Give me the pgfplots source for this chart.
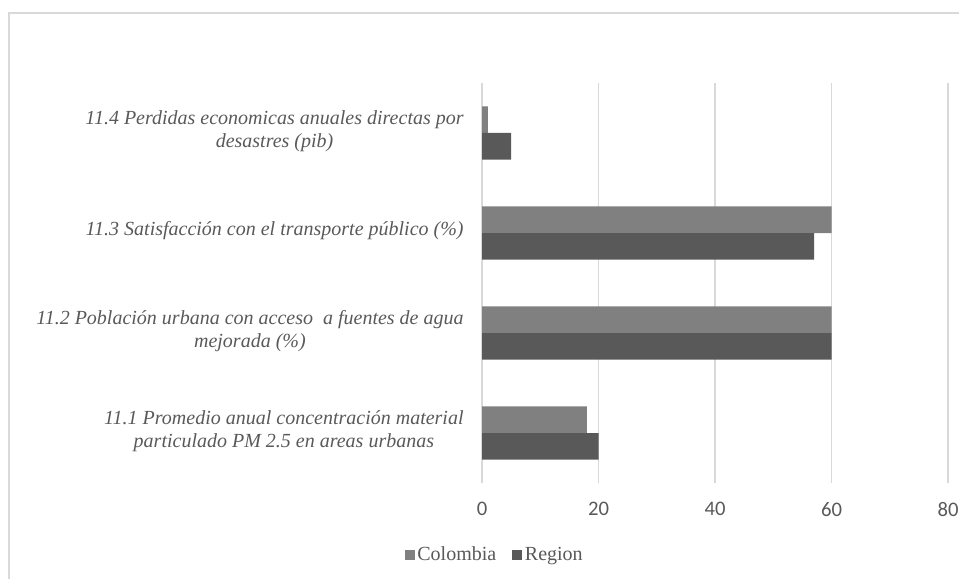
\documentclass[border=0pt]{standalone}
\usepackage{pgfplots}
\pgfplotsset{compat=1.18}
\usepackage{fontspec}
\setmainfont{Liberation Serif}
\newfontfamily\calibri{Carlito}
\definecolor{colA}{HTML}{808080}
\definecolor{colB}{HTML}{595959}
\definecolor{gridc}{HTML}{D9D9D9}
\definecolor{txt}{HTML}{595959}
\begin{document}
\begin{tikzpicture}
\path[use as bounding box] (0,0) rectangle (719.25pt,434.25pt);
\draw[gridc, line width=1.1pt] (6.75pt,0) -- (6.75pt,424.5pt) -- (719.25pt,424.5pt);
\begin{axis}[
  at={(361.5pt,72pt)}, anchor=south west,
  scale only axis, width=349.5pt, height=300pt,
  xbar, bar width=19.9pt,
  xmin=0, xmax=80, xtick={0,20,40,60,80},
  ymin=-0.5, ymax=3.5, ytick={0,1,2,3},
  yticklabels={{11.1 Promedio anual concentración material\\particulado PM 2.5 en areas urbanas},
               {11.2 Población urbana con acceso\ \ a fuentes de agua\\mejorada (\%)},
               {11.3 Satisfacción con el transporte público (\%)},
               {11.4 Perdidas economicas anuales directas por\\desastres (pib)}},
  yticklabel style={align=center, font=\fontsize{15pt}{16.8pt}\selectfont\itshape, text=txt, xshift=-6pt, yshift=1.5pt},
  xticklabel style={font=\fontsize{15.5pt}{17pt}\selectfont\calibri, text=txt, yshift=-11pt},
  /pgf/number format/assume math mode=true,
  axis line style={draw=none},
  tick style={draw=none},
  xmajorgrids, grid style={gridc, line width=1.1pt},
  legend style={at={(axis description cs:0.028,-0.18)}, anchor=center, draw=none,
    font=\fontsize{15pt}{16pt}\selectfont, text=txt, legend columns=2,
    /tikz/every even column/.append style={column sep=10pt}},
  legend image code/.code={\fill[#1] (0pt,-3.5pt) rectangle (7.5pt,4pt);},
]
\addplot[fill=colA, draw=none, bar shift=9.95pt] coordinates {(18,0) (60,1) (60,2) (1,3)};
\addplot[fill=colB, draw=none, bar shift=-9.95pt] coordinates {(20,0) (60,1) (57,2) (5,3)};
\legend{Colombia, Region}
\end{axis}
\end{tikzpicture}
\end{document}
